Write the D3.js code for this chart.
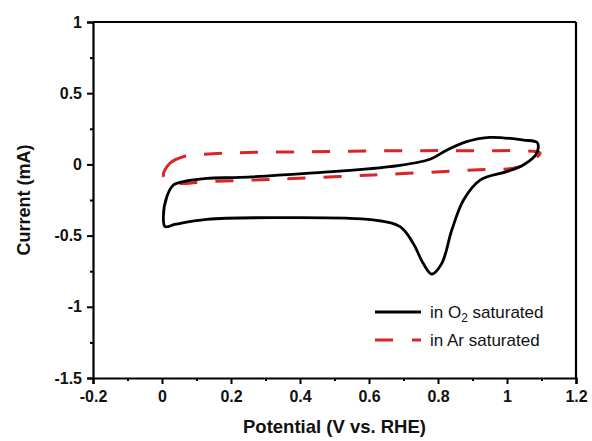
<!DOCTYPE html>
<html>
<head>
<meta charset="utf-8">
<script src="https://cdn.jsdelivr.net/npm/d3@7"></script>
<style>
  body { margin: 0; background: #fff; }
  svg { font-family: "Liberation Sans", Arial, sans-serif; }
</style>
</head>
<body>
<svg width="592" height="441"></svg>
<script>
// O2 saturated CV loop, [potential V, current mA]
const o2Potential = [0.009, 0.04, 0.13, 0.323, 0.612, 0.69, 0.728, 0.757, 0.782, 0.811, 0.840, 0.874, 0.922, 0.999, 1.047, 1.086, 1.088, 1.047, 0.951, 0.883, 0.825, 0.777, 0.661, 0.419, 0.226, 0.13, 0.062, 0.033, 0.014, 0.004];
const o2Current   = [-0.437, -0.42, -0.386, -0.374, -0.39, -0.437, -0.554, -0.695, -0.770, -0.695, -0.461, -0.25, -0.110, -0.051, -0.004, 0.078, 0.152, 0.171, 0.19, 0.16, 0.10, 0.036, -0.016, -0.063, -0.091, -0.098, -0.121, -0.145, -0.227, -0.367];

// Ar saturated CV loop
const arPotential = [0.004, 0.023, 0.062, 0.178, 0.419, 0.709, 0.902, 1.086, 1.096, 1.038, 0.902, 0.612, 0.323, 0.13, 0.042, 0.015];
const arCurrent   = [-0.074, 0.008, 0.054, 0.078, 0.089, 0.096, 0.096, 0.089, 0.078, -0.016, -0.039, -0.074, -0.105, -0.121, -0.133, -0.115];

const xTicks = [-0.2, 0, 0.2, 0.4, 0.6, 0.8, 1, 1.2];
const yTicks = [1, 0.5, 0, -0.5, -1, -1.5];
const seriesNames = ["in O", "in Ar saturated"];

const svg = d3.select("svg");
const mLeft = 93, mRight = 576, mTop = 22, mBottom = 378;

const x = d3.scaleLinear().domain([-0.2, 1.2]).range([mLeft, mRight]);
const y = d3.scaleLinear().domain([-1.5, 1]).range([mBottom, mTop]);

// minor ticks
const xMinor = d3.range(-0.1, 1.2, 0.2);
const yMinor = d3.range(-1.25, 1, 0.5);

const fmt = d => String(+d.toFixed(1)); // plain hyphen minus like the original

svg.append("g").attr("transform", `translate(0,${mBottom})`)
  .call(d3.axisBottom(x).tickValues(xTicks).tickSize(6).tickPadding(7).tickFormat(fmt));
svg.append("g").attr("transform", `translate(${mLeft},0)`)
  .call(d3.axisLeft(y).tickValues(yTicks).tickSize(6).tickPadding(5).tickFormat(fmt));

svg.append("g").attr("transform", `translate(0,${mBottom})`)
  .call(d3.axisBottom(x).tickValues(xMinor).tickSize(3).tickFormat(""))
  .select(".domain").remove();
svg.append("g").attr("transform", `translate(${mLeft},0)`)
  .call(d3.axisLeft(y).tickValues(yMinor).tickSize(3).tickFormat(""))
  .select(".domain").remove();

svg.selectAll(".domain").attr("stroke-width", 2.2);
svg.selectAll(".tick line").attr("stroke-width", 2);
svg.selectAll(".tick text")
  .attr("font-size", 16).attr("font-weight", "bold").attr("fill", "#111");

// top and right frame lines
svg.append("line").attr("x1", mLeft).attr("x2", mRight).attr("y1", mTop).attr("y2", mTop)
  .attr("stroke", "#000").attr("stroke-width", 2.2);
svg.append("line").attr("x1", mRight).attr("x2", mRight).attr("y1", mTop).attr("y2", mBottom)
  .attr("stroke", "#000").attr("stroke-width", 2.2);

// curves
const line = d3.line().x(d => x(d[0])).y(d => y(d[1])).curve(d3.curveCatmullRomClosed.alpha(0.5));

svg.append("path")
  .datum(d3.zip(arPotential, arCurrent))
  .attr("d", line)
  .attr("fill", "none").attr("stroke", "#d92525").attr("stroke-width", 3)
  .attr("stroke-dasharray", "18,18");

svg.append("path")
  .datum(d3.zip(o2Potential, o2Current))
  .attr("d", line)
  .attr("fill", "none").attr("stroke", "#000").attr("stroke-width", 2.8);

// legend
const lg = svg.append("g");
lg.append("line").attr("x1", 375).attr("x2", 421).attr("y1", 312).attr("y2", 312)
  .attr("stroke", "#000").attr("stroke-width", 2.8);
lg.append("line").attr("x1", 375).attr("x2", 421).attr("y1", 340).attr("y2", 340)
  .attr("stroke", "#d92525").attr("stroke-width", 3).attr("stroke-dasharray", "18,19");
const t1 = lg.append("text").attr("x", 430).attr("y", 318).attr("font-size", 17).attr("fill", "#111");
t1.append("tspan").text(seriesNames[0]);
t1.append("tspan").attr("font-size", 12).attr("dy", 4).text("2");
t1.append("tspan").attr("dy", -4).text(" saturated");
lg.append("text").attr("x", 430).attr("y", 346).attr("font-size", 17).attr("fill", "#111")
  .text(seriesNames[1]);

// axis titles
svg.append("text").attr("x", (mLeft + mRight) / 2).attr("y", 433)
  .attr("text-anchor", "middle").attr("font-size", 18.5).attr("font-weight", "bold")
  .attr("fill", "#111").text("Potential (V vs. RHE)");
svg.append("text").attr("transform", `translate(30,${(mTop + mBottom) / 2}) rotate(-90)`)
  .attr("text-anchor", "middle").attr("font-size", 18).attr("font-weight", "bold")
  .attr("fill", "#111").text("Current (mA)");
</script>
</body>
</html>
